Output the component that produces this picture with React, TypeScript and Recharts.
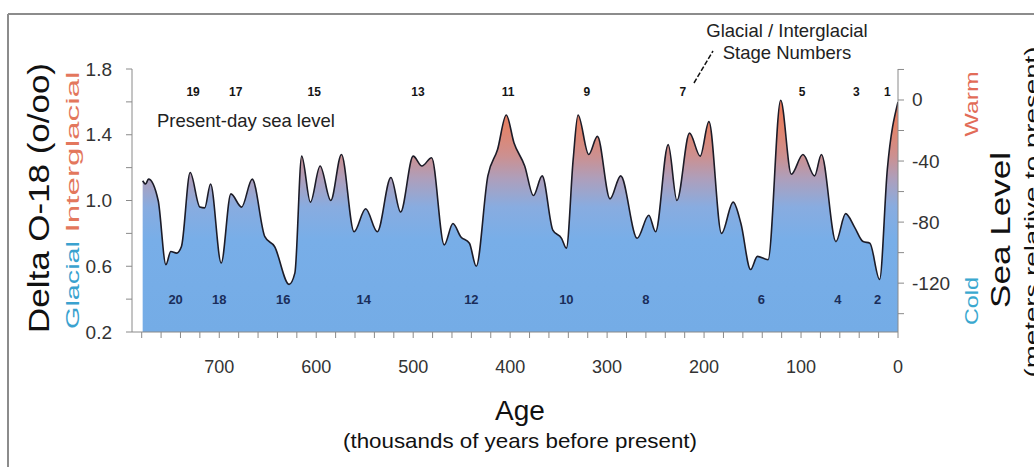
import React from "react";
import {
  ComposedChart,
  Area,
  Scatter,
  XAxis,
  YAxis,
} from "recharts";

// Age in thousands of years before present, and delta O-18
const ages = [
  779, 776, 773, 763, 755, 750, 744, 739, 730, 720, 715, 709, 698, 688, 677, 666, 653, 643, 628, 622,
  615, 606, 596, 585, 574, 561, 549, 537, 523, 513, 500, 491, 481, 468, 459, 451, 442, 435, 423, 413,
  404, 396, 385, 376, 367, 356, 347, 342, 335, 330, 319, 310, 297, 286, 269, 257, 250, 237, 228, 215,
  204, 195, 182, 170, 162, 152, 145, 134, 121, 110, 98, 86, 79, 64, 54, 45, 36, 29, 19, 11, 0,
];
const deltaO18 = [
  1.12, 1.1, 1.13, 1.0, 0.61, 0.69, 0.68, 0.72, 1.17, 0.96, 0.955, 1.1, 0.62, 1.04, 0.96, 1.13, 0.78, 0.72, 0.49, 0.56,
  1.27, 0.99, 1.21, 1.0, 1.28, 0.81, 0.95, 0.81, 1.14, 0.93, 1.27, 1.21, 1.26, 0.73, 0.86, 0.78, 0.74, 0.6, 1.15, 1.31,
  1.52, 1.35, 1.21, 1.03, 1.15, 0.82, 0.77, 0.71, 1.25, 1.52, 1.28, 1.39, 1.01, 1.15, 0.77, 0.91, 0.81, 1.34, 1.0, 1.41,
  1.27, 1.48, 0.8, 0.99, 0.86, 0.58, 0.66, 0.64, 1.61, 1.16, 1.28, 1.15, 1.28, 0.75, 0.92, 0.84, 0.75, 0.74, 0.52, 1.19, 1.6,
];

// marine isotope stage numbers
const oddStages = ["19", "17", "15", "13", "11", "9", "7", "5", "3", "1"];
const oddStageAges = [727, 683, 602, 495, 402, 321, 222, 99, 43, 11];
const evenStages = ["20", "18", "16", "14", "12", "10", "8", "6", "4", "2"];
const evenStageAges = [745, 700, 634, 551, 440, 342, 260, 141, 62, 21];
const oddStageLevel = 1.66;
const evenStageLevel = 0.395;

const ageTicks = [780, 760, 740, 720, 700, 680, 660, 640, 620, 600, 580, 560, 540, 520, 500, 480, 460, 440, 420, 400,
  380, 360, 340, 320, 300, 280, 260, 240, 220, 200, 180, 160, 140, 120, 100, 80, 60, 40, 20, 0];
const deltaTicks = [0.2, 0.4, 0.6, 0.8, 1.0, 1.2, 1.4, 1.6, 1.8];
const deltaLabels = [0.2, 0.6, 1.0, 1.4, 1.8];
const seaTicks = [20, 0, -20, -40, -60, -80, -100, -120, -140];
const seaLabels = [0, -40, -80, -120];

const data = ages.map((age, i) => ({ age, delta: deltaO18[i] }));
const stageData = [
  ...oddStages.map((label, i) => ({ age: oddStageAges[i], delta: oddStageLevel, label, odd: true })),
  ...evenStages.map((label, i) => ({ age: evenStageAges[i], delta: evenStageLevel, label, odd: false })),
];

const FONT = "'Liberation Sans', Arial, sans-serif";
const AXIS = "#8a8a8a";

const AgeTick = ({ x, y, payload }: any) =>
  payload.value % 100 === 0 ? (
    <text x={x} y={y} dy="0.71em" textAnchor="middle" fontSize={18} fill="#333" fontFamily={FONT}>
      {payload.value}
    </text>
  ) : (
    <g />
  );

const DeltaTick = ({ x, y, payload }: any) =>
  deltaLabels.some((v) => Math.abs(v - payload.value) < 1e-6) ? (
    <text x={x} y={y} textAnchor="end" dominantBaseline="central" fontSize={19} fill="#333" fontFamily={FONT}>
      {payload.value.toFixed(1)}
    </text>
  ) : (
    <g />
  );

const SeaTick = ({ x, y, payload }: any) =>
  seaLabels.includes(payload.value) ? (
    <text x={x} y={y} textAnchor="start" dominantBaseline="central" fontSize={19} fill="#333" fontFamily={FONT}>
      {payload.value}
    </text>
  ) : (
    <g />
  );

const StageLabel = (p: any) => (
  <text
    x={p.cx}
    y={p.cy}
    textAnchor="middle"
    dominantBaseline="central"
    fontSize={p.payload.odd ? 12 : 13}
    fontWeight="bold"
    fill={p.payload.odd ? "#151515" : "#1a2d5a"}
    fontFamily={FONT}
  >
    {p.payload.label}
  </text>
);

const VText = ({ x, y, len, size, color, children }: any) => (
  <text
    x={x}
    y={y}
    transform={`rotate(-90 ${x} ${y})`}
    textAnchor="middle"
    dominantBaseline="central"
    fontSize={size}
    fill={color}
    fontFamily={FONT}
    textLength={len}
    lengthAdjust="spacingAndGlyphs"
  >
    {children}
  </text>
);

export default function App() {
  return (
    <div style={{ position: "absolute", left: 0, top: 0, width: 1034, height: 467, background: "#fff", overflow: "hidden" }}>
      <ComposedChart
        width={1034}
        height={467}
        data={data}
        margin={{ top: 69, right: 76, bottom: 105, left: 72 }}
      >
        <defs>
          <linearGradient id="o18Fill" x1="0" y1="0" x2="0" y2="1">
            <stop offset="0%" stopColor="#ec7656" />
            <stop offset="12%" stopColor="#e2846c" />
            <stop offset="24%" stopColor="#cc9090" />
            <stop offset="34%" stopColor="#ad9fbc" />
            <stop offset="46%" stopColor="#88ace0" />
            <stop offset="60%" stopColor="#78aee8" />
            <stop offset="100%" stopColor="#74ace6" />
          </linearGradient>
        </defs>
        <XAxis
          dataKey="age"
          type="number"
          domain={[0, 790]}
          reversed
          allowDataOverflow
          ticks={ageTicks}
          interval={0}
          tick={<AgeTick />}
          tickSize={6}
          tickMargin={22}
          height={30}
          stroke={AXIS}
          axisLine={{ stroke: AXIS }}
          tickLine={{ stroke: AXIS }}
        />
        <XAxis
          xAxisId="top"
          orientation="top"
          type="number"
          domain={[0, 790]}
          reversed
          tick={false}
          tickLine={false}
          height={0}
          axisLine={{ stroke: AXIS }}
        />
        <YAxis
          type="number"
          domain={[0.2, 1.8]}
          allowDataOverflow
          ticks={deltaTicks}
          interval={0}
          tick={<DeltaTick />}
          tickSize={6}
          tickMargin={14}
          width={60}
          axisLine={{ stroke: AXIS }}
          tickLine={{ stroke: AXIS }}
        />
        <YAxis
          yAxisId="right"
          orientation="right"
          type="number"
          domain={[-152, 20.3]}
          allowDataOverflow
          ticks={seaTicks}
          interval={0}
          tick={<SeaTick />}
          tickSize={6}
          tickMargin={8}
          width={60}
          axisLine={{ stroke: AXIS }}
          tickLine={{ stroke: AXIS }}
        />
        <Area
          type="monotone"
          dataKey="delta"
          baseValue={0.2}
          stroke="#1c1c28"
          strokeWidth={1.6}
          fill="url(#o18Fill)"
          fillOpacity={1}
          dot={false}
          activeDot={false}
          isAnimationActive={false}
        />
        <Scatter data={stageData} dataKey="delta" shape={<StageLabel />} isAnimationActive={false} />
      </ComposedChart>

      <svg width={1034} height={467} style={{ position: "absolute", left: 0, top: 0, pointerEvents: "none" }}>
        <line x1={8} y1={14} x2={1034} y2={14} stroke="#8c8c8c" strokeWidth={2} />
        <line x1={8} y1={14} x2={8} y2={467} stroke="#8c8c8c" strokeWidth={2} />

        <VText x={39} y={198} len={270} size={29} color="#111">Delta O-18 (o/oo)</VText>
        <VText x={72} y={152} len={161} size={19} color="#e3775d">Interglacial</VText>
        <VText x={72} y={285} len={88} size={19} color="#3aa2cf">Glacial</VText>
        <VText x={971} y={104} len={65} size={19} color="#e26c58">Warm</VText>
        <VText x={971} y={301} len={48} size={19} color="#3aa8cf">Cold</VText>
        <VText x={1001} y={230} len={156} size={27} color="#111">Sea Level</VText>
        <VText x={1031} y={212} len={331} size={21} color="#111">(meters relative to present)</VText>

        <text x={157} y={120} dominantBaseline="central" fontSize={18.5} fill="#222" fontFamily={FONT}>
          Present-day sea level
        </text>
        <text x={787} y={30} textAnchor="middle" dominantBaseline="central" fontSize={18.5} fill="#222" fontFamily={FONT}>
          Glacial / Interglacial
        </text>
        <text x={787} y={52} textAnchor="middle" dominantBaseline="central" fontSize={18.5} fill="#222" fontFamily={FONT}>
          Stage Numbers
        </text>
        <line x1={694} y1={83} x2={713} y2={51} stroke="#111" strokeWidth={1.5} strokeDasharray="5 2" />

        <text x={520} y={410} textAnchor="middle" dominantBaseline="central" fontSize={28} fill="#111" fontFamily={FONT}>
          Age
        </text>
        <text
          x={520}
          y={440}
          textAnchor="middle"
          dominantBaseline="central"
          fontSize={21}
          fill="#111"
          fontFamily={FONT}
          textLength={354}
          lengthAdjust="spacingAndGlyphs"
        >
          (thousands of years before present)
        </text>
      </svg>
    </div>
  );
}
